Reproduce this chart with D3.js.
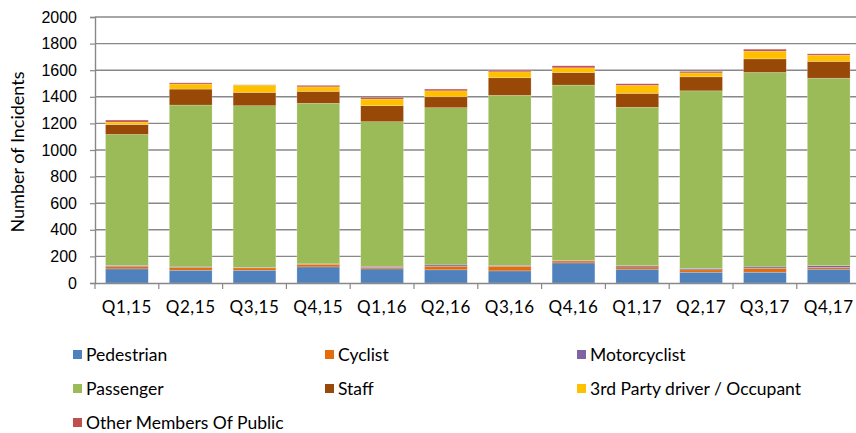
<!DOCTYPE html>
<meta charset="utf-8">
<title>incidents</title>
<style>
  body { margin: 0; background: #fff; }
  svg { display: block; font-family: Lato, "Open Sans", sans-serif; }
  .axis text { fill: #000; font-size: 16px; }
  .xaxis text { font-size: 17px; }
  .legend text { font-size: 17.5px; fill: #000; }
</style>
<body>
<div class="chart"></div>
<script src="https://d3js.org/d3.v7.min.js"></script>
<script>

// values, bottom segment first

var quarters = ["Q1,15", "Q2,15", "Q3,15", "Q4,15", "Q1,16", "Q2,16",
                "Q3,16", "Q4,16", "Q1,17", "Q2,17", "Q3,17", "Q4,17"];

var pedestrian = [106, 96, 96, 121, 106, 99, 91, 151, 104, 81, 81, 104];
var cyclist    = [17, 20, 18, 20, 12, 25, 35, 15, 17, 18, 28, 14];
var motorcyclist = [9, 5, 4, 3, 8, 12, 7, 5, 10, 10, 12, 13];
var passenger  = [985, 1217, 1215, 1207, 1087, 1182, 1278, 1317, 1190, 1336, 1462, 1409];
var staff      = [75, 120, 100, 90, 120, 82, 132, 95, 105, 105, 102, 126];
var thirdParty = [18, 38, 55, 34, 50, 45, 45, 35, 60, 30, 58, 47];
var otherPublic = [15, 9, 2, 11, 13, 13, 12, 15, 12, 11, 15, 10];

var seriesNames = ["Pedestrian", "Cyclist", "Motorcyclist", "Passenger", "Staff",
                   "3rd Party driver / Occupant", "Other Members Of Public"];
var seriesValues = [pedestrian, cyclist, motorcyclist, passenger, staff, thirdParty, otherPublic];
var colours = ["#4f81bd", "#e46c0a", "#8064a2", "#9bbb59", "#984807", "#ffc000", "#c0504d"];

var yTicks = [0, 200, 400, 600, 800, 1000, 1200, 1400, 1600, 1800, 2000];

// layout

var W = 856, H = 433;
var margin = {top: 17, left: 95, bottom: 150};
var plotW = 12 * 63.8,
    plotH = H - margin.top - margin.bottom;

var svg = d3.select(".chart").append("svg")
    .attr("width", W)
    .attr("height", H);

var g = svg.append("g")
    .attr("transform", "translate(" + margin.left + "," + margin.top + ")");

var x = d3.scaleBand()
  .domain(quarters)
  .range([0, plotW])
  .paddingInner(0.33)
  .paddingOuter(0.165);

var y = d3.scaleLinear()
  .domain([0, 2000])
  .range([plotH, 0]);

// build rows for the stack

var rows = quarters.map(function(q, i) {
  var r = {quarter: q};
  seriesNames.forEach(function(s, j) { r[s] = seriesValues[j][i]; });
  return r;
});

var stacked = d3.stack().keys(seriesNames)(rows);

// gridlines

g.append("g")
  .selectAll("line")
  .data(yTicks.slice(1))
  .enter().append("line")
  .attr("x1", 0)
  .attr("x2", plotW)
  .attr("y1", function(d) { return y(d); })
  .attr("y2", function(d) { return y(d); })
  .attr("stroke", "#888")
  .attr("stroke-width", 1.4);

// bars

g.selectAll("g.layer")
  .data(stacked)
  .enter().append("g")
  .attr("class", "layer")
  .attr("fill", function(d, i) { return colours[i]; })
  .selectAll("rect")
  .data(function(d) { return d; })
  .enter().append("rect")
  .attr("x", function(d) { return x(d.data.quarter); })
  .attr("width", x.bandwidth())
  .attr("y", function(d) { return y(d[1]); })
  .attr("height", function(d) { return y(d[0]) - y(d[1]); })
  .attr("stroke", "#fff")
  .attr("stroke-opacity", 0.35)
  .attr("stroke-width", 0.6);

// axes

var yaxis = d3.axisLeft(y)
  .tickValues(yTicks)
  .tickFormat(d3.format("d"))
  .tickSize(5)
  .tickPadding(13);

g.append("g")
  .attr("class", "axis yaxis")
  .call(yaxis)
  .call(function(a) {
    a.select(".domain").attr("stroke", "#888").attr("stroke-width", 1.4);
    a.selectAll(".tick line").attr("stroke", "#888").attr("stroke-width", 1.2);
    a.selectAll("text").attr("font-family", null).attr("font-size", null);
  });

var xaxis = d3.axisBottom(x).tickSize(0).tickPadding(14);

var xg = g.append("g")
  .attr("class", "axis xaxis")
  .attr("transform", "translate(0," + plotH + ")")
  .call(xaxis);

xg.attr("font-family", null).attr("font-size", null);
xg.select(".domain").attr("stroke", "#888").attr("stroke-width", 1.4);
xg.selectAll("text").attr("dy", "0.95em").attr("letter-spacing", "0.6px");

// tick marks at category boundaries
xg.selectAll("line.sep")
  .data(d3.range(quarters.length + 1))
  .enter().append("line")
  .attr("class", "sep")
  .attr("x1", function(i) { return i * x.step(); })
  .attr("x2", function(i) { return i * x.step(); })
  .attr("y1", 0)
  .attr("y2", 6)
  .attr("stroke", "#888")
  .attr("stroke-width", 1.2);

// axis title

svg.append("text")
  .attr("transform", "translate(24,152) rotate(-90)")
  .attr("text-anchor", "middle")
  .attr("font-size", 18)
  .text("Number of Incidents");

// legend

var legendCols = [73, 325, 577];
var legendRows = [355, 389, 423];

var legend = svg.append("g")
  .attr("class", "legend")
  .selectAll("g")
  .data(seriesNames)
  .enter().append("g")
  .attr("transform", function(d, i) {
    return "translate(" + legendCols[i % 3] + "," + legendRows[Math.floor(i / 3)] + ")";
  });

legend.append("rect")
  .attr("x", 0)
  .attr("y", -5)
  .attr("width", 9)
  .attr("height", 9)
  .attr("fill", function(d, i) { return colours[i]; });

legend.append("text")
  .attr("x", 13)
  .attr("dy", "0.35em")
  .text(function(d) { return d; });

</script>
</body>
